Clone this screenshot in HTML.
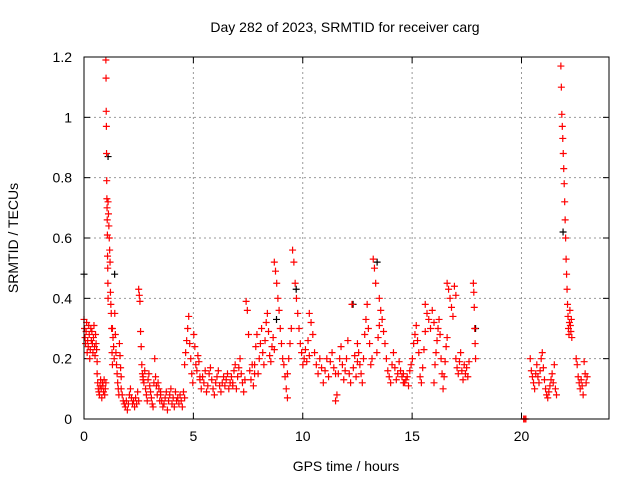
<!DOCTYPE html>
<html><head><meta charset="utf-8"><style>
body{margin:0;background:#fff;}
svg{display:block;font-family:"Liberation Sans",sans-serif;}
</style></head><body>
<svg id="chart" width="640" height="480">
<text x="345" y="32" font-size="14" text-anchor="middle">Day 282 of 2023, SRMTID for receiver carg</text>
<text x="346" y="471" font-size="14" text-anchor="middle">GPS time / hours</text>
<text transform="translate(18,238) rotate(-90)" font-size="14" text-anchor="middle">SRMTID / TECUs</text>
<g id="grid"></g><g id="ticks"></g><g id="marks"></g>
<rect x="84" y="57" width="525" height="362" fill="none" stroke="#000" stroke-width="1"/>
</svg>
<script>
const xTicks=[0,5,10,15,20];
const yTicks=[0,0.2,0.4,0.6,0.8,1,1.2];
const yTickLabels=["0","0.2","0.4","0.6","0.8","1","1.2"];
const segStarts=[0.0,0.6,1.0,1.1,1.3,1.7,2.5,2.7,3.5,4.6,5.3,6.8,7.8,8.7,9.3,10.3,11.5,12.5,13.5,14.6,15.6,16.0,16.6,17.0,17.8,20.1,20.4,21.8,22.5];
const segEnds=[0.6,1.0,1.1,1.3,1.7,2.5,2.7,3.5,4.6,5.3,6.8,7.8,8.7,9.3,10.3,11.5,12.5,13.5,14.6,15.6,16.0,16.6,17.0,17.6,17.9,20.2,21.6,22.3,23.0];
const segValues=[
[0.33,0.30,0.27,0.25,0.29,0.32,0.22,0.26,0.24,0.31,0.28,0.20,0.23,0.30,0.26,0.29,0.25,0.22,0.27,0.31,0.24,0.21,0.28,0.25,0.23,0.19],
[0.15,0.12,0.10,0.09,0.08,0.11,0.13,0.10,0.07,0.12,0.11,0.09,0.13,0.08,0.10,0.12],
[1.19,1.13,1.02,0.97,0.88,0.79,0.73,0.70,0.66,0.61,0.54,0.50,0.45,0.40],
[0.72,0.68,0.64,0.60,0.56,0.52,0.42,0.38,0.35,0.30,0.22,0.18],
[0.30,0.27,0.24,0.20,0.35,0.28,0.22,0.18,0.15,0.12,0.10,0.08,0.25,0.21,0.17,0.14],
[0.10,0.08,0.06,0.05,0.04,0.06,0.03,0.05,0.08,0.10,0.07,0.05,0.06,0.04,0.07,0.05,0.09,0.06],
[0.43,0.41,0.39,0.29,0.24,0.18,0.15,0.13],
[0.14,0.12,0.16,0.10,0.08,0.06,0.13,0.15,0.11,0.09,0.07,0.05,0.04,0.12,0.20,0.14,0.11,0.08,0.12,0.10,0.06,0.09],
[0.08,0.06,0.04,0.05,0.07,0.09,0.03,0.06,0.08,0.10,0.05,0.07,0.04,0.09,0.06,0.07,0.05,0.08,0.06,0.04,0.09,0.07],
[0.18,0.22,0.26,0.30,0.34,0.25,0.20,0.15,0.12,0.28,0.24,0.18,0.16,0.21,0.19,0.14],
[0.13,0.10,0.14,0.12,0.16,0.09,0.11,0.15,0.17,0.13,0.10,0.08,0.12,0.14,0.16,0.11,0.09,0.12,0.14,0.11,0.13,0.15,0.10,0.12,0.14,0.11],
[0.12,0.16,0.18,0.10,0.14,0.17,0.20,0.15,0.12,0.09,0.13,0.39,0.36,0.28,0.16,0.13,0.18,0.11,0.15],
[0.18,0.24,0.28,0.15,0.20,0.25,0.30,0.22,0.18,0.26,0.32,0.35,0.29,0.21,0.19,0.24,0.27,0.23],
[0.52,0.49,0.45,0.40,0.36,0.30,0.25,0.20,0.18,0.14,0.10,0.07],
[0.15,0.20,0.25,0.30,0.56,0.52,0.45,0.40,0.35,0.30,0.25,0.22,0.18,0.20,0.23,0.19,0.26,0.21],
[0.35,0.32,0.28,0.22,0.18,0.15,0.20,0.17,0.12,0.16,0.20,0.14,0.19,0.22,0.17,0.15],
[0.06,0.08,0.15,0.20,0.24,0.18,0.13,0.16,0.20,0.26,0.15,0.12,0.38,0.17,0.21,0.14,0.19],
[0.25,0.22,0.18,0.15,0.12,0.20,0.28,0.33,0.38,0.30,0.25,0.18,0.20,0.53,0.50,0.45,0.22,0.27,0.31],
[0.40,0.36,0.33,0.29,0.25,0.20,0.16,0.14,0.12,0.18,0.22,0.17,0.13,0.15,0.19,0.16,0.14,0.12],
[0.15,0.12,0.13,0.14,0.11,0.16,0.18,0.20,0.25,0.28,0.31,0.26,0.22,0.14,0.12,0.17,0.23,0.29],
[0.38,0.35,0.33,0.30,0.36,0.32],
[0.12,0.18,0.22,0.26,0.30,0.33,0.28,0.20,0.15,0.10,0.14,0.19,0.24,0.27],
[0.45,0.43,0.40,0.37,0.34,0.44,0.41],
[0.20,0.17,0.15,0.19,0.22,0.16,0.13,0.18,0.15,0.17,0.14,0.19],
[0.45,0.42,0.37,0.30,0.25,0.20],
[0.0,0.0,0.0],
[0.20,0.16,0.14,0.12,0.10,0.15,0.18,0.14,0.12,0.16,0.20,0.22,0.17,0.13,0.10,0.08,0.07,0.09,0.11,0.13,0.15,0.12,0.18,0.10,0.08],
[1.17,1.10,1.01,0.97,0.93,0.88,0.83,0.78,0.72,0.66,0.60,0.53,0.48,0.43,0.38,0.34,0.30,0.28,0.32,0.36,0.31,0.29,0.33,0.27],
[0.20,0.18,0.14,0.12,0.10,0.13,0.11,0.08,0.19,0.15,0.12,0.14]
];
const blackTimes=[0.0,1.1,1.4,8.8,9.7,12.3,13.4,17.9,21.9];
const blackValues=[0.48,0.87,0.48,0.33,0.43,0.38,0.52,0.30,0.62];

const NS="http://www.w3.org/2000/svg";
const X0=84,X1=609,Y0=419,Y1=57,XMAX=24,YMAX=1.2;
function xs(t){return X0+(X1-X0)*t/XMAX;}
function ys(v){return Y0-(Y0-Y1)*v/YMAX;}
function mk(tag,attrs,parent){const e=document.createElementNS(NS,tag);for(const k in attrs)e.setAttribute(k,attrs[k]);parent.appendChild(e);return e;}
const grid=document.getElementById('grid'),ticks=document.getElementById('ticks'),marks=document.getElementById('marks');
xTicks.forEach(t=>{
  const x=xs(t);
  if(t>0){const g=mk('line',{x1:x,x2:x,y1:Y1,y2:Y0,stroke:'#999','stroke-dasharray':'2,3'},grid);
  
  }
  mk('line',{x1:x,x2:x,y1:Y0,y2:Y0-6,stroke:'#000'},ticks);
  mk('line',{x1:x,x2:x,y1:Y1,y2:Y1+6,stroke:'#000'},ticks);
  const l=mk('text',{x:x,y:Y0+22,'font-size':14,'text-anchor':'middle'},ticks);
  l.textContent=t;
  
  
});
yTicks.forEach((v,i)=>{
  const y=ys(v);
  if(v>0&&v<YMAX){const g=mk('line',{x1:X0,x2:X1,y1:y,y2:y,stroke:'#999','stroke-dasharray':'2,3'},grid);
  
  }
  mk('line',{x1:X0,x2:X0+6,y1:y,y2:y,stroke:'#000'},ticks);
  mk('line',{x1:X1,x2:X1-6,y1:y,y2:y,stroke:'#000'},ticks);
  const l=mk('text',{x:X0-12,y:y+5,'font-size':14,'text-anchor':'end'},ticks);
  l.textContent=yTickLabels[i];
  
  
});
function plus(t,v,col){
  const x=xs(t),y=ys(v);
  const p=mk('path',{d:`M${x-3.5},${y}h7M${x},${y-3.5}v7`,stroke:col,'stroke-width':1.2,fill:'none'},marks);
  
  
}
blackTimes.forEach((t,i)=>plus(t,blackValues[i],'#000'));
segValues.forEach((vals,s)=>{
  const a=segStarts[s],b=segEnds[s],n=vals.length;
  vals.forEach((v,i)=>{const t=n>1?a+(b-a)*i/(n-1):a;plus(t,v,'#f00');});
});
</script>
</body></html>
